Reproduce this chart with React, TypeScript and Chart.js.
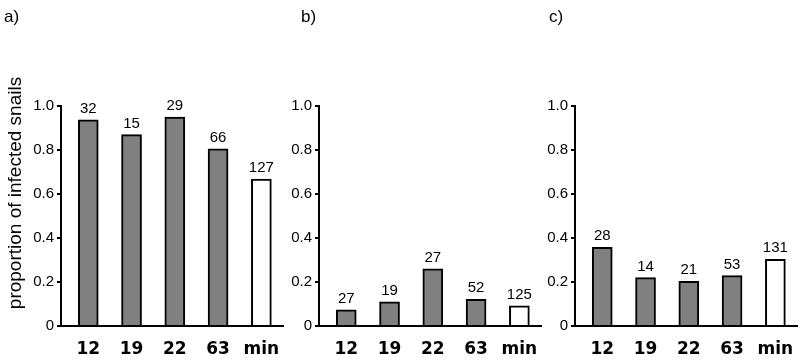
import React, { useEffect, useRef } from "react";
import { Chart, registerables } from "chart.js";

Chart.register(...registerables);

const categories = ["12", "19", "22", "63", "min"];
const panelLabels = ["a)", "b)", "c)"];
const valuesA = [0.937, 0.87, 0.95, 0.805, 0.668];
const countsA = [32, 15, 29, 66, 127];
const valuesB = [0.073, 0.11, 0.26, 0.121, 0.092];
const countsB = [27, 19, 27, 52, 125];
const valuesC = [0.358, 0.22, 0.203, 0.229, 0.303];
const countsC = [28, 14, 21, 53, 131];
const yTicks = [0, 0.2, 0.4, 0.6, 0.8, 1.0];
const yTitle = "proportion of infected snails";
const barColors = ["#808080", "#808080", "#808080", "#808080", "#ffffff"];

type PanelProps = {
  values: number[];
  counts: number[];
  left: number;
  width: number;
  axisLeft: number;
  rightPad: number;
  showTitle: boolean;
};

function Panel({ values, counts, left, width, axisLeft, rightPad, showTitle }: PanelProps) {
  const ref = useRef<HTMLCanvasElement | null>(null);
  useEffect(() => {
    if (!ref.current) return;
    const valueLabels = {
      id: "valueLabels",
      afterDatasetsDraw(chart: any) {
        const ctx = chart.ctx;
        const meta = chart.getDatasetMeta(0);
        ctx.save();
        ctx.font = '15px "Liberation Sans", Arial, sans-serif';
        ctx.fillStyle = "#000";
        ctx.textAlign = "center";
        ctx.textBaseline = "alphabetic";
        meta.data.forEach((bar: any, i: number) => {
          ctx.fillText(String(counts[i]), bar.x, bar.y - 7);
        });
        ctx.restore();
      },
    };
    const titlePlugin = {
      id: "yTitle",
      afterDraw(chart: any) {
        if (!showTitle) return;
        const ctx = chart.ctx;
        ctx.save();
        ctx.translate(16, 193);
        ctx.rotate(-Math.PI / 2);
        ctx.font = '19px "Liberation Sans", Arial, sans-serif';
        ctx.fillStyle = "#000";
        ctx.textAlign = "center";
        ctx.textBaseline = "middle";
        ctx.fillText(yTitle, 0, 0);
        ctx.restore();
      },
    };
    const chart = new Chart(ref.current, {
      type: "bar",
      data: {
        datasets: [
          {
            data: values.map((v, i) => ({ x: i, y: v })),
            backgroundColor: barColors,
            borderColor: "#000",
            borderWidth: 2,
            barThickness: 20,
            borderSkipped: "start",
          } as any,
        ],
      },
      options: {
        animation: false,
        responsive: false,
        events: [],
        layout: { padding: { top: 106, right: rightPad, bottom: 0, left: 0 } },
        plugins: { legend: { display: false }, tooltip: { enabled: false } },
        scales: {
          x: {
            type: "linear",
            offset: false,
            min: -0.63,
            max: 4.5,
            grid: { display: true, offset: false, drawOnChartArea: false, drawTicks: false },
            border: { display: true, color: "#000", width: 2 },
            ticks: {
              color: "#000",
              padding: 13,
              font: { family: "DejaVu Sans", weight: "bold", size: 17 },
              callback: (v: any) => categories[v] ?? "",
            },
            afterBuildTicks: (s: any) => {
              s.ticks = categories.map((_, i) => ({ value: i }));
            },
            afterFit: (s: any) => {
              s.height = 37;
              s.paddingLeft = 0;
              s.paddingRight = 0;
            },
          },
          y: {
            min: 0,
            max: 1,
            ticks: {
              color: "#000",
              padding: 3,
              font: { family: "Liberation Sans", size: 15 },
              callback: (v: any) => (Number(v) === 0 ? "0" : Number(v).toFixed(1)),
            },
            afterBuildTicks: (s: any) => {
              s.ticks = yTicks.map((v) => ({ value: v }));
            },
            grid: { drawOnChartArea: false, drawTicks: true, tickLength: 4, color: "#000", lineWidth: 2 },
            border: { display: true, color: "#000", width: 2 },
            afterFit: (s: any) => {
              s.width = axisLeft;
              s.paddingTop = 0;
              s.paddingBottom = 0;
            },
          },
        },
      } as any,
      plugins: [valueLabels, titlePlugin],
    });
    return () => chart.destroy();
  }, []);
  return (
    <canvas
      ref={ref}
      width={width}
      height={363}
      style={{ position: "absolute", left, top: 0, width, height: 363, display: "block" }}
    />
  );
}

const labelStyle: React.CSSProperties = {
  position: "absolute",
  top: 8,
  fontFamily: '"Liberation Sans", Arial, sans-serif',
  fontSize: 17,
  lineHeight: "17px",
  color: "#000",
};

export default function App() {
  return (
    <div style={{ position: "fixed", left: 0, top: 0, width: 800, height: 363, background: "#fff", overflow: "hidden" }}>
      <Panel values={valuesA} counts={countsA} left={0} width={290} axisLeft={61} rightPad={7} showTitle={true} />
      <Panel values={valuesB} counts={countsB} left={290} width={255} axisLeft={29} rightPad={4} showTitle={false} />
      <Panel values={valuesC} counts={countsC} left={545} width={255} axisLeft={30} rightPad={3} showTitle={false} />
      <div style={{ ...labelStyle, left: 4 }}>{panelLabels[0]}</div>
      <div style={{ ...labelStyle, left: 301 }}>{panelLabels[1]}</div>
      <div style={{ ...labelStyle, left: 549 }}>{panelLabels[2]}</div>
    </div>
  );
}
